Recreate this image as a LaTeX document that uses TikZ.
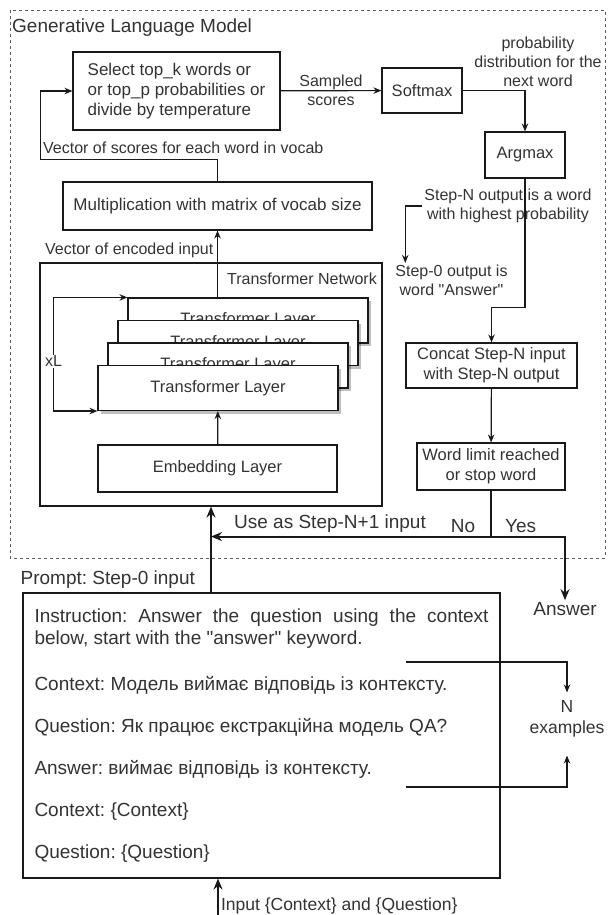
\documentclass[tikz,border=0pt]{standalone}
\usepackage{fontspec}
\setmainfont{Liberation Sans}[Ligatures=TeXOff]
\usetikzlibrary{arrows.meta, positioning, calc, shadows}
\frenchspacing

\begin{document}
\begin{tikzpicture}[
    x=1pt, y=-1pt,
    >={Stealth[length=8pt, width=6.5pt]},
    every node/.style={text=black!80},
    frame/.style={draw=black!65, line width=0.9pt, dash pattern=on 3pt off 3pt},
    box/.style={draw=black!90, fill=white, line width=1.1pt, align=center,
                font=\fontsize{16.5}{20}\selectfont, inner sep=3pt},
    layerbox/.style={box, minimum width=240pt, minimum height=45pt,
                     drop shadow={shadow xshift=3pt, shadow yshift=-3pt, fill=black, opacity=0.25}},
    lbl/.style={font=\fontsize{16}{19}\selectfont, align=center, inner sep=2pt},
    biglbl/.style={lbl, font=\fontsize{19}{22}\selectfont},
    midlbl/.style={lbl, font=\fontsize{17.5}{21}\selectfont},
    arr/.style={->, line width=1.2pt, draw=black!90},
    thkarr/.style={-{Stealth[length=11pt, width=9pt]}, line width=2pt, draw=black!90},
]
\useasboundingbox (0,0) rectangle (609,915);

% generative model frame
\draw[frame] (10,10) rectangle (605,558);
\node[anchor=west, font=\fontsize{19}{22}\selectfont, inner sep=1pt] (title) at (11,28) {Generative Language Model};

% sampling and output
\node[box, minimum width=207pt, minimum height=78pt, align=left, font=\fontsize{17}{20}\selectfont] (sel) at (176.5,91)
    {Select top\_k words or\\or top\_p probabilities or\\divide by temperature};
\node[box, minimum width=80pt, minimum height=45pt] (soft) at (422,90.5) {Softmax};
\node[box, minimum width=80pt, minimum height=46pt] (argm) at (525,155) {Argmax};
\node[lbl] (prob) at (538,62) {probability\\distribution for the\\next word};

\node[box, minimum width=309pt, minimum height=48pt, font=\fontsize{17}{20}\selectfont] (mult) at (217.5,206) {Multiplication with matrix of vocab size};
\node[lbl, anchor=west] (scl) at (41,148) {Vector of scores for each word in vocab};
\node[lbl, anchor=west] (encl) at (43,250) {Vector of encoded input};

% transformer network
\node[box, minimum width=342pt, minimum height=243pt] (tnet) at (211,384.5) {};
\node[lbl, anchor=east] (tnetl) at (379,279) {Transformer Network};
\foreach \i/\xx/\yy in {4/248/320.5, 3/238/343, 2/228/365.5, 1/218/388}
    \node[layerbox] (tl\i) at (\xx,\yy) {Transformer Layer};
\node[box, minimum width=239pt, minimum height=47pt] (emb) at (217.5,468.5) {Embedding Layer};

\draw[arr] (sel) -- node[lbl] {Sampled\\scores} (soft);
\draw[arr] (soft) -| (argm);
\draw[arr] (mult.north) -- ++(0,-22) -| ($(sel.west)+(-32,0)$) -- (sel.west);
\draw[arr] (tl4.north -| mult.south) -- (mult.south);
\draw[arr] (emb) -- (tl1);
\draw[arr, <->] (tl4.north west) -- ++(-74,0) |- node[lbl, pos=0.28, fill=white, inner sep=1pt] {xL} (tl1.south west);

% generation loop
\node[lbl] (stepn) at (508,206) {Step-N output is a word\\with highest probability};
\node[lbl] (step0) at (451.5,280.5) {Step-0 output is\\word "Answer"};
\node[box, minimum width=171pt, minimum height=45pt] (cat) at (491.5,365.5) {Concat Step-N input\\with Step-N output};
\node[box, minimum width=148pt, minimum height=47pt] (lim) at (491,466.5) {Word limit reached\\or stop word};

\draw[arr] (argm.south) -- ++(0,129) -| (cat);
\draw[arr] (stepn.west) -| ([xshift=12pt]step0.north west);
\draw[arr] (cat) -- (lim);

\coordinate (split) at ($(lim.south)+(0,46)$);
\node[biglbl] (answ) at (565,609) {Answer};
\draw[line width=2pt, draw=black!90] (lim) -- (split);
\draw[thkarr] (split) -- (split -| tnet.south)
    node[biglbl, pos=0.1, above=1pt] {No}
    node[biglbl, pos=0.575, above=1pt] {Use as Step-N+1 input};
\draw[thkarr] (split) -| node[biglbl, pos=0.2, above=1pt] {Yes} (answ);

% prompt
\node[box, minimum width=477pt, minimum height=285pt, text width=454pt, align=justify,
      font=\fontsize{19}{22}\selectfont] (prompt) at (261.5,735.5)
    {\noindent\hyphenpenalty=10000 Instruction: Answer the question using the context\linebreak below, start with the "answer" keyword.\\[24pt]
     Context: Модель виймає відповідь із контексту.\\[20pt]
     Question: Як працює екстракційна модель QA?\\[20pt]
     Answer: виймає відповідь із контексту.\\[20pt]
     Context: \{Context\}\\[20pt]
     Question: \{Question\}};
\node[biglbl, anchor=south west] (promptl) at ($(prompt.north west)+(-4,-2)$) {Prompt: Step-0 input};
\draw[thkarr] (prompt.north -| tnet.south) -- (tnet.south);

\coordinate (exa) at (406,662);
\coordinate (exb) at (406,787);
\node[midlbl] (nex) at (567,719) {N\\examples};
\draw[arr] (exa) -| ([yshift=6pt]nex.north);
\draw[arr] (exb) -| ([yshift=-16pt]nex.south);

\coordinate (inb) at (218,915);
\draw[thkarr] (inb) -- (inb |- prompt.south)
    node[midlbl, pos=0.25, right] {Input \{Context\} and \{Question\}};
\end{tikzpicture}
\end{document}
